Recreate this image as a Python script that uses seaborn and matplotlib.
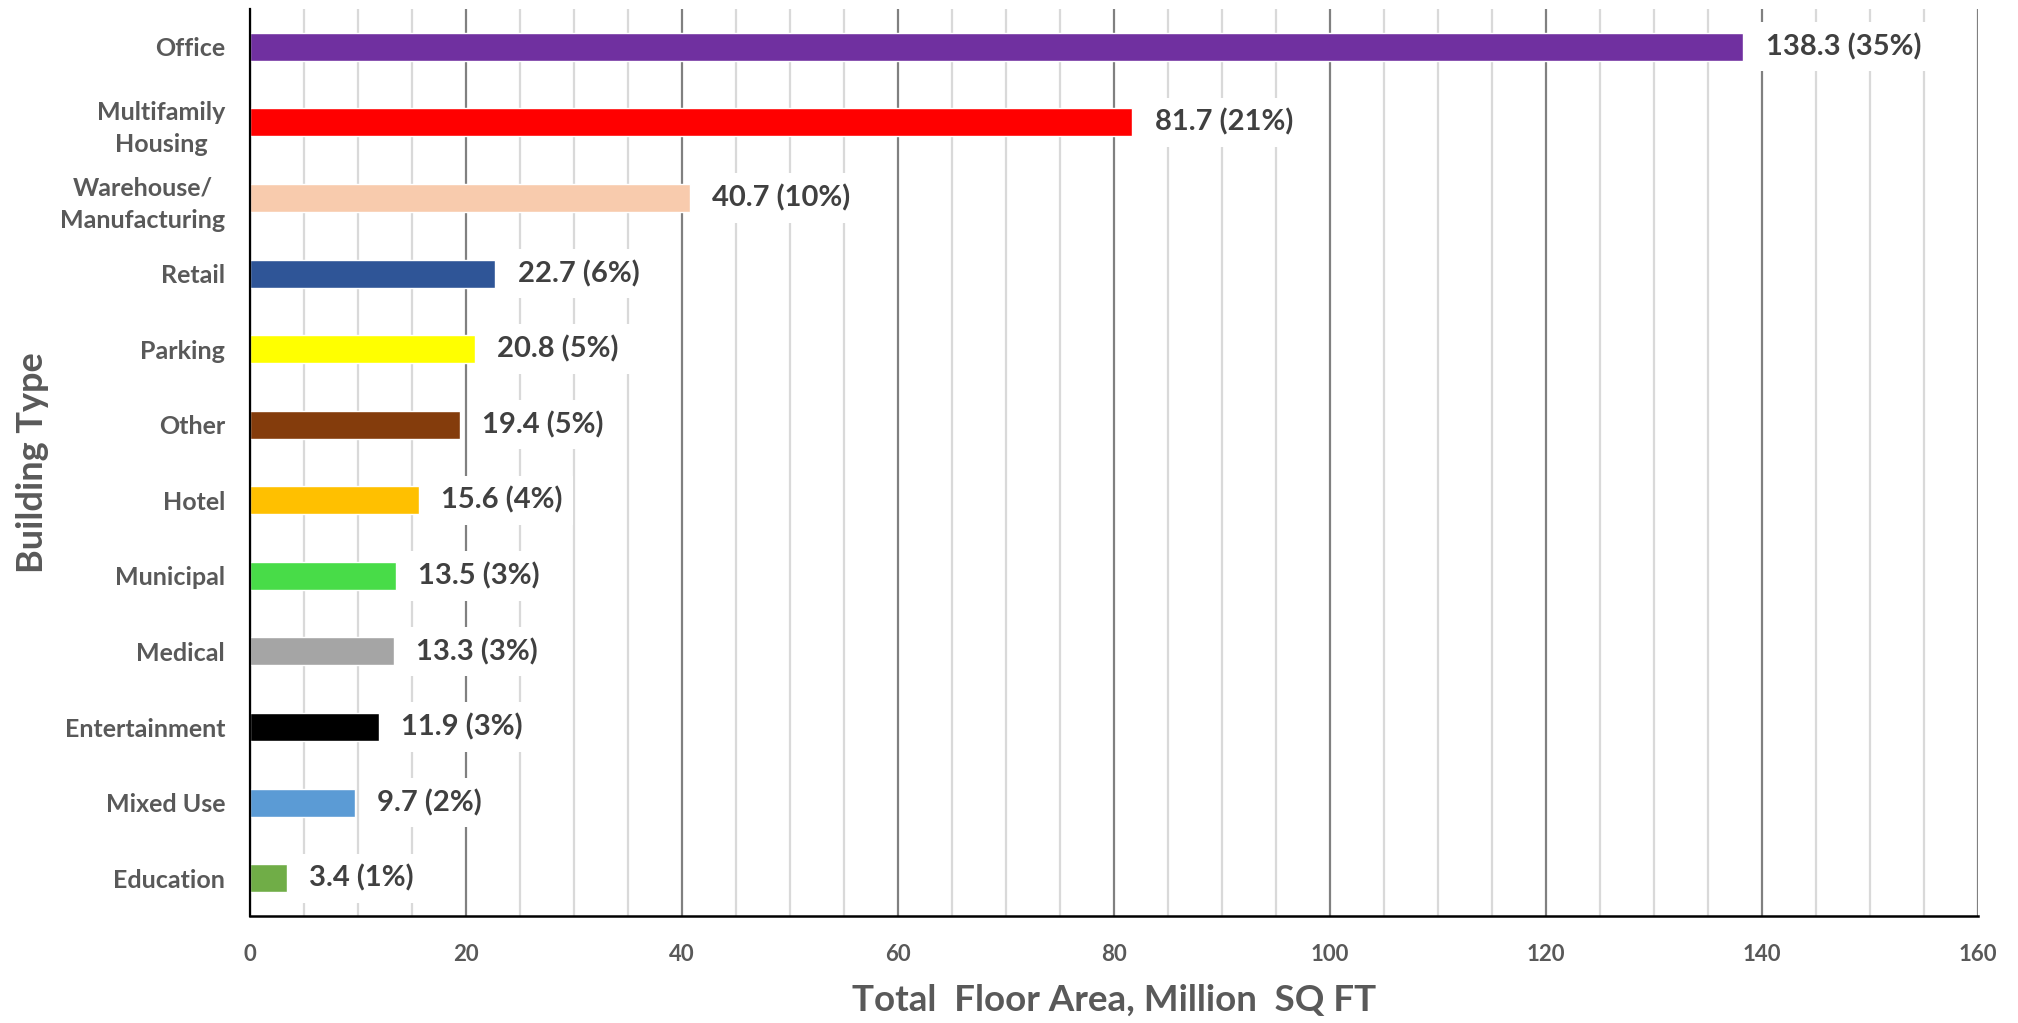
import pandas as pd
import seaborn as sns
import matplotlib.pyplot as plt
from matplotlib.ticker import MultipleLocator

# data
building_types = ["Office", "Multifamily\nHousing", "Warehouse/\nManufacturing", "Retail",
                  "Parking", "Other", "Hotel", "Municipal", "Medical", "Entertainment",
                  "Mixed Use", "Education"]
floor_area = [138.3, 81.7, 40.7, 22.7, 20.8, 19.4, 15.6, 13.5, 13.3, 11.9, 9.7, 3.4]
share_pct = [35, 21, 10, 6, 5, 5, 4, 3, 3, 3, 2, 1]
bar_colors = ["#7030A0", "#FF0000", "#F8CBAD", "#2F5597", "#FFFF00", "#843C0C",
              "#FFC000", "#48DC48", "#A5A5A5", "#000000", "#5B9BD5", "#70AD47"]

df = pd.DataFrame({"type": building_types, "area": floor_area})

sns.set_style("white")
plt.rcParams["font.family"] = ["Lato", "DejaVu Sans"]

fig = plt.figure(figsize=(20.18, 10.23), dpi=100)
ax = fig.add_axes([0.124, 0.1046, 0.856, 0.8866])

sns.barplot(data=df, x="area", y="type", hue="type", orient="h",
            palette=dict(zip(building_types, bar_colors)), width=0.37,
            legend=False, saturation=1, ax=ax)

ax.set_xlim(0, 160)
ax.set_ylim(11.5, -0.5)
ax.xaxis.set_major_locator(MultipleLocator(20))
ax.xaxis.set_minor_locator(MultipleLocator(5))
ax.grid(which="major", axis="x", color="#808080", lw=1.6, zorder=0)
ax.grid(which="minor", axis="x", color="#D9D9D9", lw=1.6, zorder=0)
ax.grid(axis="y", visible=False)
ax.set_axisbelow(True)

for s in ["top", "right"]:
    ax.spines[s].set_visible(False)
ax.spines["left"].set_color("black")
ax.spines["bottom"].set_color("black")
ax.spines["left"].set_linewidth(1.6)
ax.spines["bottom"].set_linewidth(1.8)

ax.tick_params(axis="x", which="both", direction="in", length=5, width=1.4,
               color="black", labelsize=16, labelcolor="#595959", pad=20)
ax.tick_params(axis="y", length=0, labelsize=18, labelcolor="#595959", pad=18)
for lbl in ax.get_xticklabels():
    lbl.set_fontweight("bold")
for lbl in ax.get_yticklabels():
    lbl.set_fontweight("bold")
    lbl.set_multialignment("center")
    lbl.set_linespacing(1.45)

ax.set_xlabel("Total  Floor Area, Million  SQ FT", fontsize=26.5, fontweight="bold",
              color="#595959", labelpad=14)
ax.set_ylabel("Building Type", fontsize=26, fontweight="bold", color="#595959", labelpad=8)

for cont, val, pct in zip(ax.containers, floor_area, share_pct):
    ax.bar_label(cont, labels=[f"{val} ({pct}%)"], padding=16, fontsize=21,
                 fontweight="bold", color="#404040",
                 bbox=dict(facecolor="white", edgecolor="none", pad=8))

fig.savefig("out.png", dpi=100)
plt.close(fig)
